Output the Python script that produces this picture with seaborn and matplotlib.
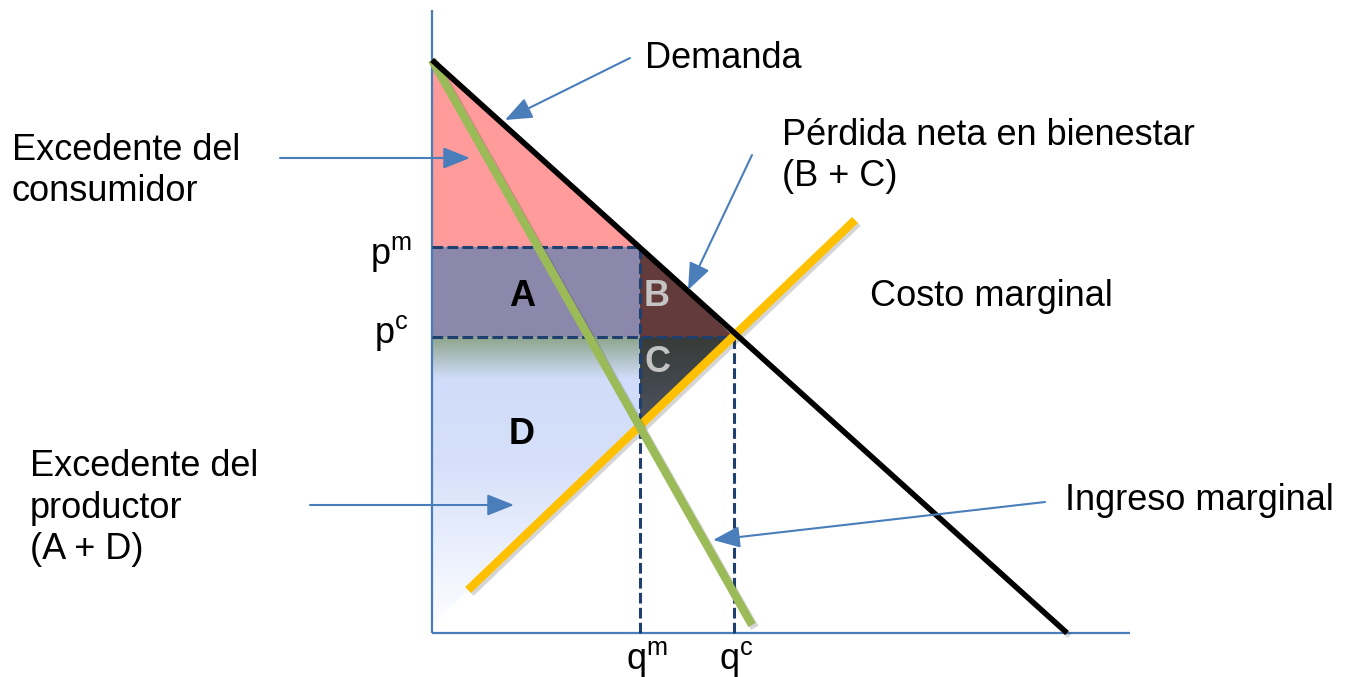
import numpy as np
import pandas as pd
import matplotlib
matplotlib.use("Agg")
import matplotlib.pyplot as plt
import matplotlib.patheffects as pe
from matplotlib.patches import Polygon
import seaborn as sns

# ---- data (economic units: quantity, price) ----
demand_q = [0, 635]
demand_p = [573, 0]
mr_q = [0, 320]
mr_p = [573, 8]
mc_q = [36, 423]
mc_p = [43, 413]
q_m, q_c = 208, 302
p_m, p_c = 386, 296
mc_at_qm = 208
axis_x_max, axis_y_max = 698, 623

labels_areas = ["A", "B", "C", "D"]

sns.set_theme(style="white")
plt.rcParams["font.family"] = ["Liberation Sans", "DejaVu Sans"]
plt.rcParams["text.color"] = "black"
plt.rcParams["mathtext.fontset"] = "custom"
plt.rcParams["mathtext.rm"] = "Liberation Sans"
plt.rcParams["mathtext.it"] = "Liberation Sans"

fig = plt.figure(figsize=(13.47, 6.77), dpi=100)
ax = fig.add_axes([0, 0, 1, 1])
ax.set_xlim(-432, 915)
ax.set_ylim(-44, 633)
ax.axis("off")

FS = 26

# ---- filled areas ----
ax.add_patch(Polygon([(0, demand_p[0]), (0, p_m), (q_m, p_m)], closed=True,
                     facecolor="#ff9b9b", edgecolor="none", zorder=1))
ax.add_patch(Polygon([(0, p_m), (q_m, p_m), (q_m, p_c), (0, p_c)], closed=True,
                     facecolor="#8c88ab", edgecolor="none", zorder=1))
ax.add_patch(Polygon([(q_m, p_m), (q_m, p_c), (q_c, p_c)], closed=True,
                     facecolor="#633b3b", edgecolor="none", zorder=1))

slope_mc = (mc_p[1] - mc_p[0]) / (mc_q[1] - mc_q[0])
c_poly = Polygon([(q_m, p_c), (q_c, p_c), (q_m, mc_at_qm)], closed=True,
                 facecolor="none", edgecolor="none")
ax.add_patch(c_poly)
grad_c = np.zeros((50, 1, 3))
top_c = np.array([0x38, 0x3c, 0x38]) / 255
bot_c = np.array([0x4d, 0x53, 0x62]) / 255
for i in range(50):
    t = i / 49
    grad_c[i, 0] = top_c * (1 - t) + bot_c * t
im_c = ax.imshow(grad_c, extent=[q_m, q_c, mc_at_qm, p_c], origin="upper",
                 aspect="auto", zorder=1, interpolation="bilinear")
im_c.set_clip_path(c_poly)

y0_mc = mc_p[0] - slope_mc * mc_q[0]
d_poly = Polygon([(0, p_c), (q_m, p_c), (q_m, mc_at_qm), (0, y0_mc)], closed=True,
                 facecolor="none", edgecolor="none")
ax.add_patch(d_poly)
stops_y = np.array([p_c, 255, 170, 10])
stops_col = np.array([[0x8e, 0xa5, 0x8c], [0xd0, 0xdc, 0xf9],
                      [0xd6, 0xe0, 0xfa], [0xfc, 0xfd, 0xff]]) / 255
ys = np.linspace(p_c, 0, 300)
grad_d = np.zeros((300, 1, 3))
for ch in range(3):
    grad_d[:, 0, ch] = np.interp(ys, stops_y[::-1], stops_col[::-1, ch])
im_d = ax.imshow(grad_d, extent=[0, q_m, 0, p_c], origin="upper",
                 aspect="auto", zorder=1, interpolation="bilinear")
im_d.set_clip_path(d_poly)

# ---- axes lines ----
axis_col = "#4a7ebb"
ax.plot([0, 0], [0, axis_y_max], color=axis_col, lw=1.6, zorder=2, solid_capstyle="butt")
ax.plot([0, axis_x_max], [0, 0], color=axis_col, lw=1.6, zorder=2, solid_capstyle="butt")

# ---- dashed guide lines ----
dash_col = "#1f3f6f"
dkw = dict(color=dash_col, lw=2.2, dashes=(3.5, 1.4), zorder=3)
ax.plot([0, q_m], [p_m, p_m], **dkw)
ax.plot([0, q_c], [p_c, p_c], **dkw)
ax.plot([q_m, q_m], [0, p_m], **dkw)
ax.plot([q_c, q_c], [0, p_c], **dkw)

# ---- curves via seaborn ----
shadow = [pe.SimpleLineShadow(offset=(2, -2), alpha=0.18), pe.Normal()]
curves = pd.DataFrame({
    "q": mc_q + mr_q + demand_q,
    "p": mc_p + mr_p + demand_p,
    "curve": ["Costo marginal"] * 2 + ["Ingreso marginal"] * 2 + ["Demanda"] * 2,
})
styles = {"Costo marginal": ("#ffc000", 6.0), "Ingreso marginal": ("#9bbb59", 6.0),
          "Demanda": ("#000000", 4.0)}
for name in ["Costo marginal", "Ingreso marginal", "Demanda"]:
    sub = curves[curves["curve"] == name]
    col, lw = styles[name]
    sns.lineplot(data=sub, x="q", y="p", ax=ax, color=col, lw=lw, sort=False,
                 estimator=None, legend=False, zorder=4,
                 path_effects=shadow, solid_capstyle="butt")
ax.set_xlim(-432, 915)
ax.set_ylim(-44, 633)
ax.axis("off")

# ---- area letters ----
ax.text(90, 336, "A", fontsize=FS, fontweight="bold", ha="center", va="center", color="black", zorder=6)
ax.text(225, 336, "B", fontsize=FS, fontweight="bold", ha="center", va="center", color="#c4c4c4", zorder=6)
ax.text(225, 270, "C", fontsize=FS, fontweight="bold", ha="center", va="center", color="#c4c4c4", zorder=6)
ax.text(90, 199, "D", fontsize=FS, fontweight="bold", ha="center", va="center", color="black", zorder=6)

# ---- axis labels ----
ax.text(-20, 379, r"p$^{\mathrm{m}}$", fontsize=FS, ha="right", va="center")
ax.text(-24, 300, r"p$^{\mathrm{c}}$", fontsize=FS, ha="right", va="center")
ax.text(215, -26, r"q$^{\mathrm{m}}$", fontsize=FS, ha="center", va="center")
ax.text(304, -26, r"q$^{\mathrm{c}}$", fontsize=FS, ha="center", va="center")

# ---- annotations ----
akw = dict(arrowstyle="-|>,head_length=0.75,head_width=0.3", color=axis_col, lw=1.5,
           mutation_scale=22, shrinkA=0, shrinkB=0)
ax.annotate("", xy=(73, 513), xytext=(198, 575), arrowprops=akw, zorder=7)
ax.annotate("", xy=(38, 475), xytext=(-152, 475), arrowprops=akw, zorder=7)
ax.annotate("", xy=(256, 343), xytext=(320, 478), arrowprops=akw, zorder=7)
ax.annotate("", xy=(82, 128), xytext=(-122, 128), arrowprops=akw, zorder=7)
ax.annotate("", xy=(281, 93), xytext=(613, 131), arrowprops=akw, zorder=7)

ax.text(213, 575, "Demanda", fontsize=FS, ha="left", va="center")
ax.text(-420, 462, "Excedente del\nconsumidor", fontsize=FS, ha="left", va="center", linespacing=1.25)
ax.text(350, 477, "Pérdida neta en bienestar\n(B + C)", fontsize=FS, ha="left", va="center", linespacing=1.25)
ax.text(438, 336, "Costo marginal", fontsize=FS, ha="left", va="center")
ax.text(-402, 125, "Excedente del\nproductor\n(A + D)", fontsize=FS, ha="left", va="center", linespacing=1.25)
ax.text(633, 133, "Ingreso marginal", fontsize=FS, ha="left", va="center")

fig.savefig("out.png", dpi=100)
